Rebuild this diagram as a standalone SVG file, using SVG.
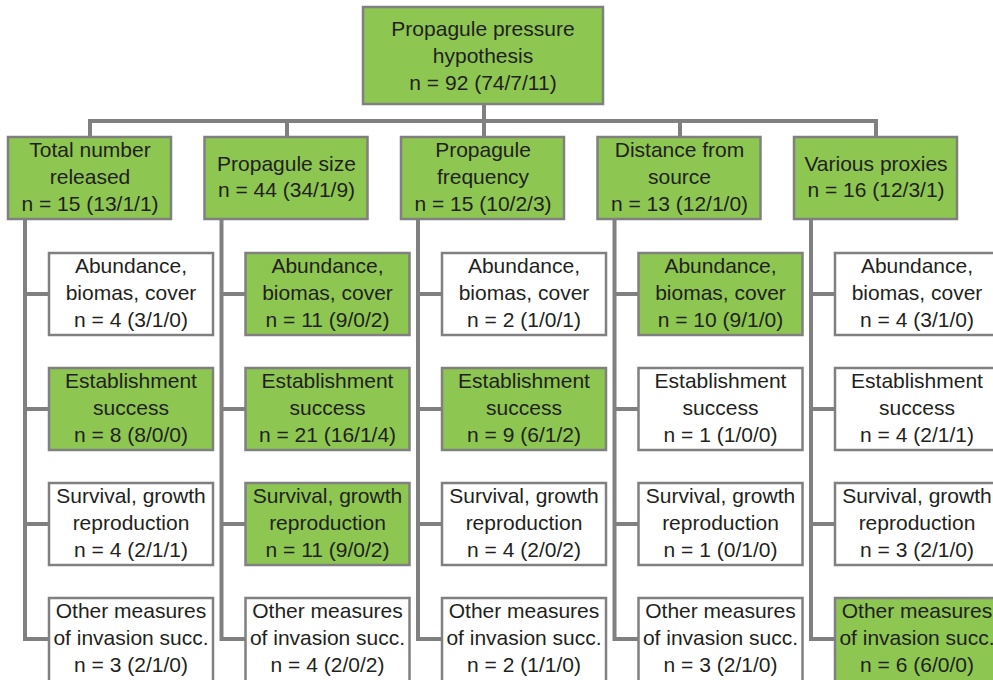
<svg xmlns="http://www.w3.org/2000/svg" width="993" height="680" viewBox="0 0 993 680">
  <style>
    .box { stroke: #808080; stroke-width: 2.5; }
    .on { fill: #8dc651; }
    .off { fill: #ffffff; }
    .wire { fill: none; stroke: #808080; stroke-width: 4; stroke-linejoin: miter; }
    text { font-family: "Liberation Sans", Arial, sans-serif; font-size: 21px; fill: #231f20; text-anchor: middle; }
  </style>
  <rect width="993" height="680" fill="#ffffff"/>

  <!-- connectors -->
  <g id="connectors" class="wire">
    <path d="M484 104 V121"/>
    <path d="M90 137 V121 H876 V137"/>
    <path d="M287 121 V137 M484 121 V137 M680 121 V137"/>
    <!-- column trunks with branches -->
    <path d="M25 219 V639 H49 M25 294 H49 M25 409 H49 M25 524 H49"/>
    <path d="M221.5 219 V639 H245.5 M221.5 294 H245.5 M221.5 409 H245.5 M221.5 524 H245.5"/>
    <path d="M418 219 V639 H442 M418 294 H442 M418 409 H442 M418 524 H442"/>
    <path d="M614.5 219 V639 H638.5 M614.5 294 H638.5 M614.5 409 H638.5 M614.5 524 H638.5"/>
    <path d="M811 219 V639 H835 M811 294 H835 M811 409 H835 M811 524 H835"/>
  </g>

  <!-- root -->
  <g id="root">
    <rect class="box on" x="363" y="7" width="240" height="97"/>
    <text x="483" y="36">Propagule pressure</text>
    <text x="483" y="63">hypothesis</text>
    <text x="483" y="90">n = 92 (74/7/11)</text>
  </g>

  <!-- categories -->
  <g id="cat-total">
    <rect class="box on" x="8" y="137" width="163" height="82"/>
    <text x="90" y="157">Total number</text>
    <text x="90" y="184">released</text>
    <text x="90" y="211">n = 15 (13/1/1)</text>
  </g>
  <g id="cat-size">
    <rect class="box on" x="204.5" y="137" width="163" height="82"/>
    <text x="286.5" y="171">Propagule size</text>
    <text x="286.5" y="197">n = 44 (34/1/9)</text>
  </g>
  <g id="cat-frequency">
    <rect class="box on" x="401" y="137" width="163" height="82"/>
    <text x="483" y="157">Propagule</text>
    <text x="483" y="184">frequency</text>
    <text x="483" y="211">n = 15 (10/2/3)</text>
  </g>
  <g id="cat-distance">
    <rect class="box on" x="597.5" y="137" width="163" height="82"/>
    <text x="679.5" y="157">Distance from</text>
    <text x="679.5" y="184">source</text>
    <text x="679.5" y="211">n = 13 (12/1/0)</text>
  </g>
  <g id="cat-proxies">
    <rect class="box on" x="794" y="137" width="163" height="82"/>
    <text x="876" y="171">Various proxies</text>
    <text x="876" y="197">n = 16 (12/3/1)</text>
  </g>

  <!-- column 1 -->
  <g id="total-abundance">
    <rect class="box off" x="49" y="253" width="164" height="82"/>
    <text x="131" y="273">Abundance,</text>
    <text x="131" y="300">biomas, cover</text>
    <text x="131" y="327">n = 4 (3/1/0)</text>
  </g>
  <g id="total-establishment">
    <rect class="box on" x="49" y="368" width="164" height="82"/>
    <text x="131" y="388">Establishment</text>
    <text x="131" y="415">success</text>
    <text x="131" y="442">n = 8 (8/0/0)</text>
  </g>
  <g id="total-survival">
    <rect class="box off" x="49" y="483" width="164" height="82"/>
    <text x="131" y="503">Survival, growth</text>
    <text x="131" y="530">reproduction</text>
    <text x="131" y="557">n = 4 (2/1/1)</text>
  </g>
  <g id="total-other">
    <rect class="box off" x="49" y="598" width="164" height="84"/>
    <text x="131" y="618">Other measures</text>
    <text x="131" y="645">of invasion succ.</text>
    <text x="131" y="672">n = 3 (2/1/0)</text>
  </g>

  <!-- column 2 -->
  <g id="size-abundance">
    <rect class="box on" x="245.5" y="253" width="164" height="82"/>
    <text x="327.5" y="273">Abundance,</text>
    <text x="327.5" y="300">biomas, cover</text>
    <text x="327.5" y="327">n = 11 (9/0/2)</text>
  </g>
  <g id="size-establishment">
    <rect class="box on" x="245.5" y="368" width="164" height="82"/>
    <text x="327.5" y="388">Establishment</text>
    <text x="327.5" y="415">success</text>
    <text x="327.5" y="442">n = 21 (16/1/4)</text>
  </g>
  <g id="size-survival">
    <rect class="box on" x="245.5" y="483" width="164" height="82"/>
    <text x="327.5" y="503">Survival, growth</text>
    <text x="327.5" y="530">reproduction</text>
    <text x="327.5" y="557">n = 11 (9/0/2)</text>
  </g>
  <g id="size-other">
    <rect class="box off" x="245.5" y="598" width="164" height="84"/>
    <text x="327.5" y="618">Other measures</text>
    <text x="327.5" y="645">of invasion succ.</text>
    <text x="327.5" y="672">n = 4 (2/0/2)</text>
  </g>

  <!-- column 3 -->
  <g id="frequency-abundance">
    <rect class="box off" x="442" y="253" width="164" height="82"/>
    <text x="524" y="273">Abundance,</text>
    <text x="524" y="300">biomas, cover</text>
    <text x="524" y="327">n = 2 (1/0/1)</text>
  </g>
  <g id="frequency-establishment">
    <rect class="box on" x="442" y="368" width="164" height="82"/>
    <text x="524" y="388">Establishment</text>
    <text x="524" y="415">success</text>
    <text x="524" y="442">n = 9 (6/1/2)</text>
  </g>
  <g id="frequency-survival">
    <rect class="box off" x="442" y="483" width="164" height="82"/>
    <text x="524" y="503">Survival, growth</text>
    <text x="524" y="530">reproduction</text>
    <text x="524" y="557">n = 4 (2/0/2)</text>
  </g>
  <g id="frequency-other">
    <rect class="box off" x="442" y="598" width="164" height="84"/>
    <text x="524" y="618">Other measures</text>
    <text x="524" y="645">of invasion succ.</text>
    <text x="524" y="672">n = 2 (1/1/0)</text>
  </g>

  <!-- column 4 -->
  <g id="distance-abundance">
    <rect class="box on" x="638.5" y="253" width="164" height="82"/>
    <text x="720.5" y="273">Abundance,</text>
    <text x="720.5" y="300">biomas, cover</text>
    <text x="720.5" y="327">n = 10 (9/1/0)</text>
  </g>
  <g id="distance-establishment">
    <rect class="box off" x="638.5" y="368" width="164" height="82"/>
    <text x="720.5" y="388">Establishment</text>
    <text x="720.5" y="415">success</text>
    <text x="720.5" y="442">n = 1 (1/0/0)</text>
  </g>
  <g id="distance-survival">
    <rect class="box off" x="638.5" y="483" width="164" height="82"/>
    <text x="720.5" y="503">Survival, growth</text>
    <text x="720.5" y="530">reproduction</text>
    <text x="720.5" y="557">n = 1 (0/1/0)</text>
  </g>
  <g id="distance-other">
    <rect class="box off" x="638.5" y="598" width="164" height="84"/>
    <text x="720.5" y="618">Other measures</text>
    <text x="720.5" y="645">of invasion succ.</text>
    <text x="720.5" y="672">n = 3 (2/1/0)</text>
  </g>

  <!-- column 5 -->
  <g id="proxies-abundance">
    <rect class="box off" x="835" y="253" width="164" height="82"/>
    <text x="917" y="273">Abundance,</text>
    <text x="917" y="300">biomas, cover</text>
    <text x="917" y="327">n = 4 (3/1/0)</text>
  </g>
  <g id="proxies-establishment">
    <rect class="box off" x="835" y="368" width="164" height="82"/>
    <text x="917" y="388">Establishment</text>
    <text x="917" y="415">success</text>
    <text x="917" y="442">n = 4 (2/1/1)</text>
  </g>
  <g id="proxies-survival">
    <rect class="box off" x="835" y="483" width="164" height="82"/>
    <text x="917" y="503">Survival, growth</text>
    <text x="917" y="530">reproduction</text>
    <text x="917" y="557">n = 3 (2/1/0)</text>
  </g>
  <g id="proxies-other">
    <rect class="box on" x="835" y="598" width="164" height="84"/>
    <text x="917" y="618">Other measures</text>
    <text x="917" y="645">of invasion succ.</text>
    <text x="917" y="672">n = 6 (6/0/0)</text>
  </g>
</svg>
